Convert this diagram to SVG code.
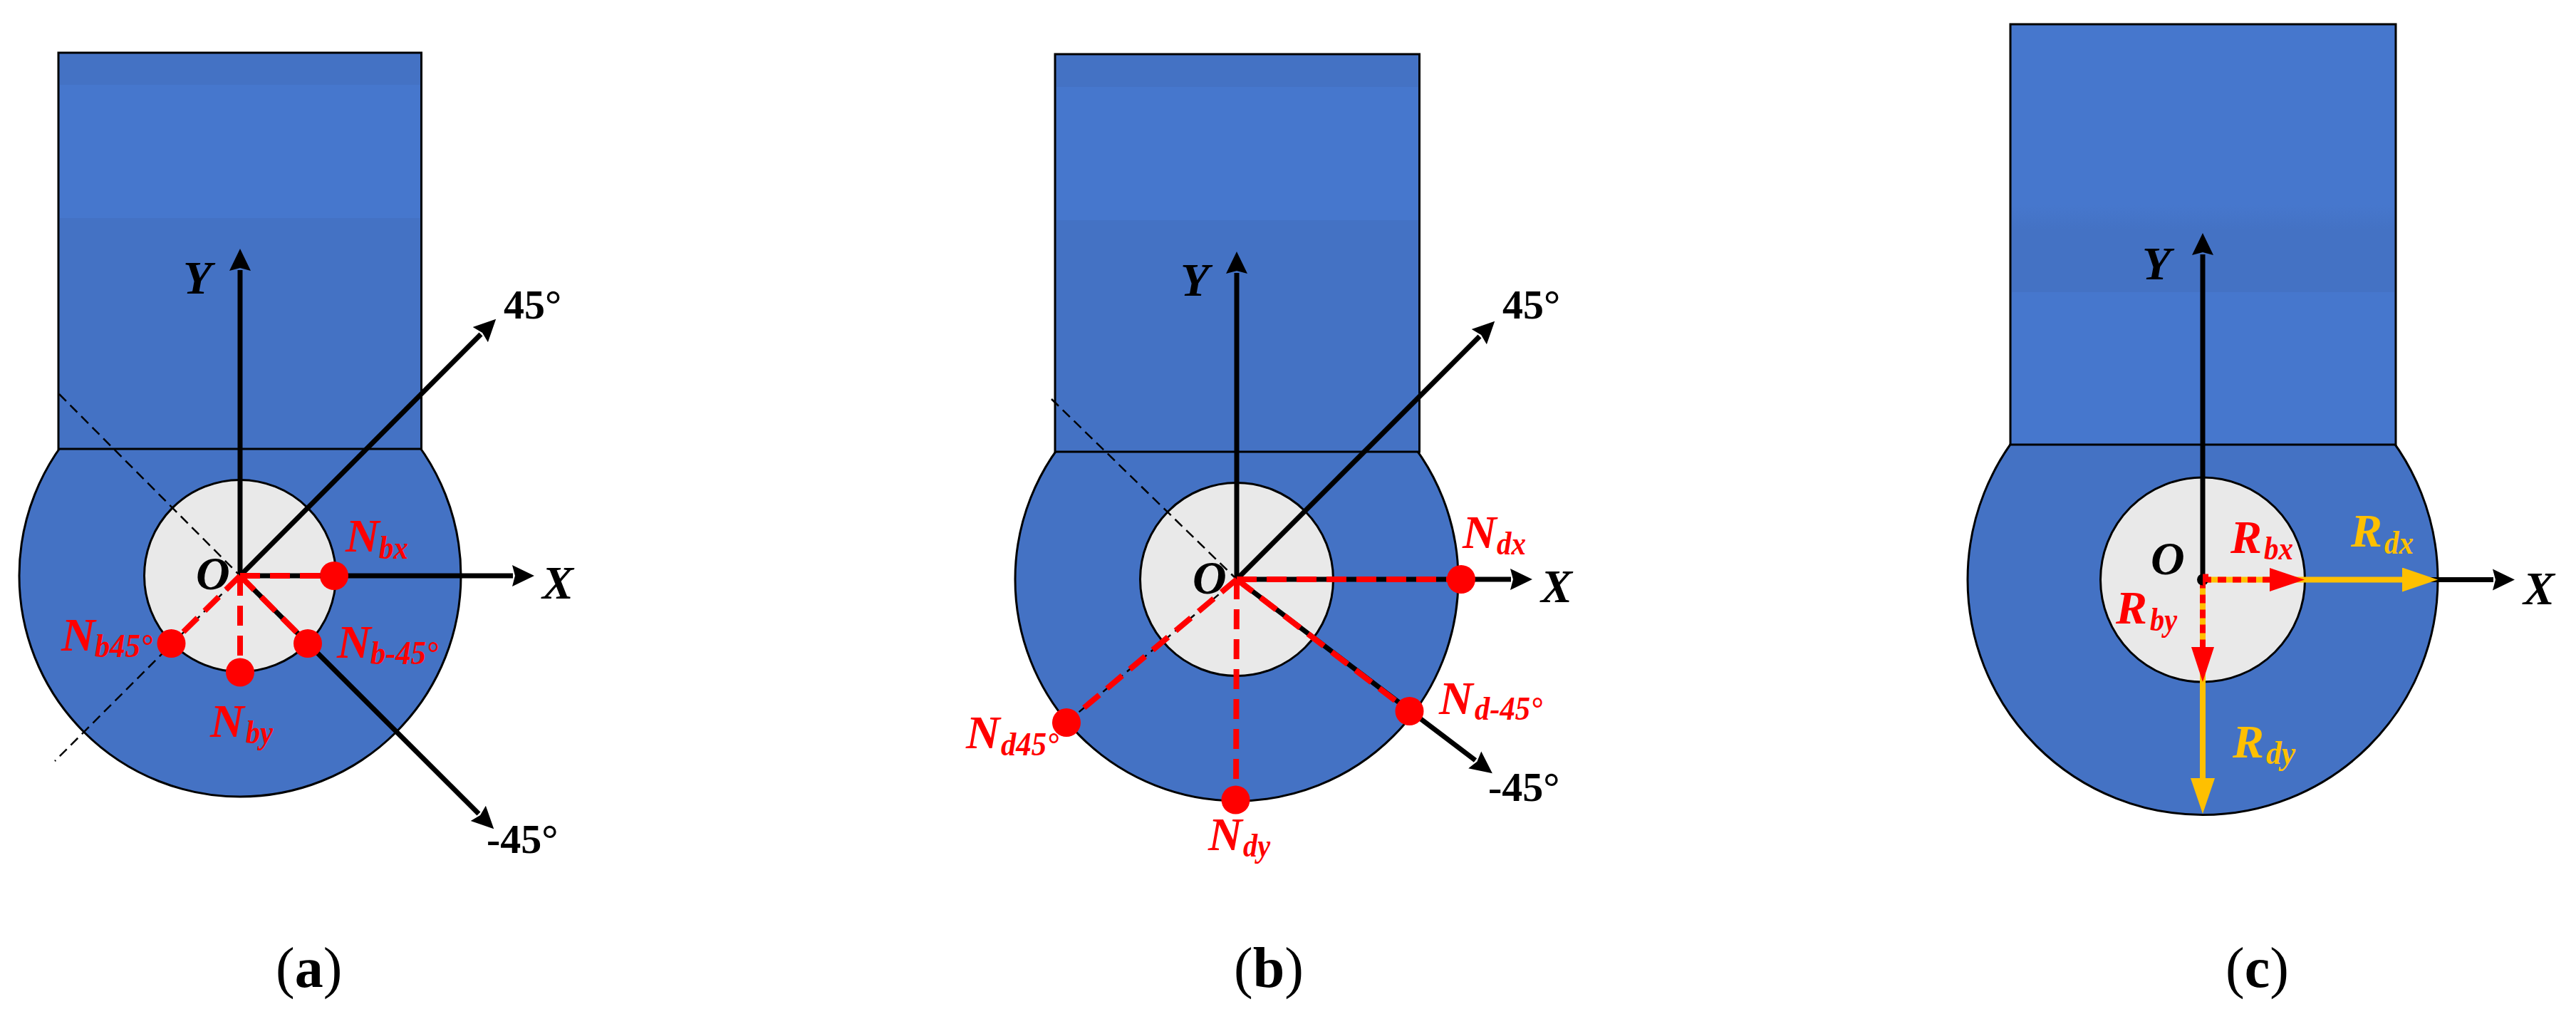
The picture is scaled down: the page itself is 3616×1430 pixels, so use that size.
<svg xmlns="http://www.w3.org/2000/svg" width="3616" height="1430" viewBox="0 0 3616 1430">
<style>
text{font-family:"Liberation Serif","Times New Roman",serif}
.body{fill:#4472C4;stroke:#000;stroke-width:3}
.band{fill:#4677CD}
.edge{fill:none;stroke:#000;stroke-width:3}
.bore{fill:#E9E9E9;stroke:#000;stroke-width:3}
.ax{stroke:#000;stroke-width:7;fill:none;marker-end:url(#hb)}
.thin{stroke:#000;stroke-width:2.5;stroke-dasharray:14 8;fill:none}
.rd{stroke:#F00;stroke-width:8;stroke-dasharray:28 14;fill:none}
.node{fill:#F00}
.lab{font-style:italic;font-weight:bold;font-size:66px}
.blk{fill:#000}.red{fill:#F00}.org{fill:#FFC000}
.sub{font-size:46px}
.deg{font-weight:bold;font-size:58px;fill:#000}
.cap{font-size:80px;fill:#000}
.cap tspan{font-weight:bold}
.or{stroke:#FFC000;stroke-width:8;fill:none}
.rdo{stroke:#F00;stroke-width:8;stroke-dasharray:12 9;fill:none}
</style>
<defs>
<marker id="hb" markerUnits="userSpaceOnUse" markerWidth="32" markerHeight="32" refX="1" refY="16" orient="auto" viewBox="0 0 32 32"><path d="M0,1 L31,16 L0,31 L4,16 Z" fill="#000"/></marker>
<marker id="ho" markerUnits="userSpaceOnUse" markerWidth="50" markerHeight="34" refX="1" refY="17" orient="auto" viewBox="0 0 50 34"><path d="M0,0 L50,17 L0,34 Z" fill="#FFC000"/></marker>
<linearGradient id="fade" x1="0" y1="0" x2="0" y2="1"><stop offset="0" stop-color="#4677CD"/><stop offset="1" stop-color="#4472C4"/></linearGradient>
</defs>
<rect width="3616" height="1430" fill="#fff"/>

<g id="panel-a-body">
<circle class="body" cx="337" cy="808" r="310"/>
<rect class="body" x="82" y="74" width="509.500" height="556"/>
<rect class="band" x="84" y="119" width="505.500" height="187"/>
<circle class="bore" cx="337" cy="808" r="134.500"/>
</g>
<g id="panel-b-body">
<circle class="body" cx="1736" cy="813" r="311"/>
<rect class="body" x="1481" y="76" width="511.500" height="558"/>
<rect class="band" x="1483" y="122" width="507.500" height="187"/>
<circle class="bore" cx="1736" cy="813" r="135.500"/>
</g>
<g id="panel-c-body">
<circle class="body" cx="3092" cy="813.500" r="330"/>
<rect class="body" x="2822" y="34" width="541" height="590"/>
<rect class="band" x="2824" y="36" width="537" height="252"/>
<rect x="2824" y="288" width="537" height="34" fill="url(#fade)"/>
<rect class="band" x="2824" y="410" width="537" height="212"/>
<circle class="bore" cx="3092" cy="813.500" r="143.500"/>
</g>

<g id="connectors">
<path class="thin" d="M83,553 L337,808 L77,1068"/>
<line class="ax" x1="337" y1="808" x2="337" y2="379"/>
<line class="ax" x1="337" y1="808" x2="675" y2="469"/>
<line class="ax" x1="337" y1="808" x2="672" y2="1142"/>
<line class="ax" x1="337" y1="808" x2="720" y2="808"/>
<line class="rd" x1="337" y1="808" x2="469" y2="808"/>
<line class="rd" x1="337" y1="808" x2="241" y2="903"/>
<line class="rd" x1="337" y1="808" x2="432" y2="903"/>
<line class="rd" x1="337" y1="808" x2="337" y2="943"/>

<path class="thin" d="M1476,560 L1736,813 L1497,1014"/>
<line class="ax" x1="1736" y1="813" x2="1736" y2="383"/>
<line class="ax" x1="1736" y1="813" x2="2077" y2="472"/>
<line class="ax" x1="1736" y1="813" x2="2071" y2="1067"/>
<line class="ax" x1="1736" y1="813" x2="2121" y2="813"/>
<line class="rd" x1="1736" y1="813" x2="2051" y2="813"/>
<line class="rd" x1="1736" y1="813" x2="1497" y2="1014"/>
<line class="rd" x1="1736" y1="813" x2="1978" y2="998"/>
<line class="rd" x1="1736" y1="813" x2="1735" y2="1122"/>

<line class="ax" x1="3092" y1="813.500" x2="3092" y2="357"/>
<line class="ax" x1="3092" y1="813.500" x2="3500" y2="813.500"/>
<line class="or" x1="3092" y1="813.500" x2="3373" y2="813.500" marker-end="url(#ho)"/>
<line class="or" x1="3092" y1="813.500" x2="3092" y2="1093" marker-end="url(#ho)"/>
<line class="rdo" x1="3092" y1="813.500" x2="3186" y2="813.500"/>
<line class="rdo" x1="3092" y1="813.500" x2="3092" y2="908"/>
<path d="M3186,797 L3235,813.500 L3186,830 Z" fill="#F00"/>
<path d="M3076,908 L3092,957 L3108,908 Z" fill="#F00"/>
<circle cx="3092" cy="813.500" r="8" fill="#000"/>
<path d="M3092,805.500 H3100 V817 H3096 V821.500 H3092 Z" fill="#F00"/>
</g>

<g id="panel-a-nodes">
<circle id="n-bx" class="node" cx="469" cy="808" r="20"/>
<circle id="n-b45" class="node" cx="240.500" cy="903" r="20"/>
<circle id="n-b-45" class="node" cx="432" cy="903" r="20"/>
<circle id="n-by" class="node" cx="337" cy="943.500" r="20"/>
</g>
<g id="panel-b-nodes">
<circle id="n-dx" class="node" cx="2051" cy="813" r="20"/>
<circle id="n-d45" class="node" cx="1497" cy="1014" r="20"/>
<circle id="n-d-45" class="node" cx="1978.500" cy="998" r="20"/>
<circle id="n-dy" class="node" cx="1734.500" cy="1122.500" r="20"/>
</g>

<g id="labels-a">
<text class="lab blk" x="257" y="412">Y</text>
<text class="lab blk" x="275" y="827">O</text>
<text class="lab blk" x="761" y="840">X</text>
<text class="deg" x="707" y="447">45°</text>
<text class="deg" x="683" y="1197">-45°</text>
<text class="lab red" x="485" y="774">N<tspan class="sub" x="532" y="784" textLength="41" lengthAdjust="spacingAndGlyphs">bx</tspan></text>
<text class="lab red" x="86" y="913">N<tspan class="sub" x="133" y="922" textLength="81" lengthAdjust="spacingAndGlyphs">b45°</tspan></text>
<text class="lab red" x="473" y="923">N<tspan class="sub" x="520" y="932" textLength="95" lengthAdjust="spacingAndGlyphs">b-45°</tspan></text>
<text class="lab red" x="295" y="1034">N<tspan class="sub" x="345" y="1043" textLength="38" lengthAdjust="spacingAndGlyphs">by</tspan></text>
<text class="cap" x="387" y="1385">(<tspan>a</tspan>)</text>
</g>
<g id="labels-b">
<text class="lab blk" x="1657" y="415">Y</text>
<text class="lab blk" x="1674" y="833">O</text>
<text class="lab blk" x="2163" y="845">X</text>
<text class="deg" x="2109" y="447">45°</text>
<text class="deg" x="2089" y="1124">-45°</text>
<text class="lab red" x="2053" y="769">N<tspan class="sub" x="2101" y="778" textLength="41" lengthAdjust="spacingAndGlyphs">dx</tspan></text>
<text class="lab red" x="1356" y="1050">N<tspan class="sub" x="1405" y="1060" textLength="81" lengthAdjust="spacingAndGlyphs">d45°</tspan></text>
<text class="lab red" x="2020" y="1002">N<tspan class="sub" x="2070" y="1010" textLength="95" lengthAdjust="spacingAndGlyphs">d-45°</tspan></text>
<text class="lab red" x="1696" y="1193">N<tspan class="sub" x="1745" y="1202" textLength="38" lengthAdjust="spacingAndGlyphs">dy</tspan></text>
<text class="cap" x="1732" y="1385">(<tspan>b</tspan>)</text>
</g>
<g id="labels-c">
<text class="lab blk" x="3007" y="392">Y</text>
<text class="lab blk" x="3019" y="806">O</text>
<text class="lab blk" x="3542" y="848">X</text>
<text class="lab red" x="3131" y="776">R<tspan class="sub" x="3178" y="785" textLength="41" lengthAdjust="spacingAndGlyphs">bx</tspan></text>
<text class="lab org" x="3300" y="767">R<tspan class="sub" x="3347" y="777" textLength="41" lengthAdjust="spacingAndGlyphs">dx</tspan></text>
<text class="lab red" x="2970" y="875">R<tspan class="sub" x="3018" y="885" textLength="38" lengthAdjust="spacingAndGlyphs">by</tspan></text>
<text class="lab org" x="3134" y="1063">R<tspan class="sub" x="3181" y="1072" textLength="41" lengthAdjust="spacingAndGlyphs">dy</tspan></text>
<text class="cap" x="3124" y="1385">(<tspan>c</tspan>)</text>
</g>
</svg>
